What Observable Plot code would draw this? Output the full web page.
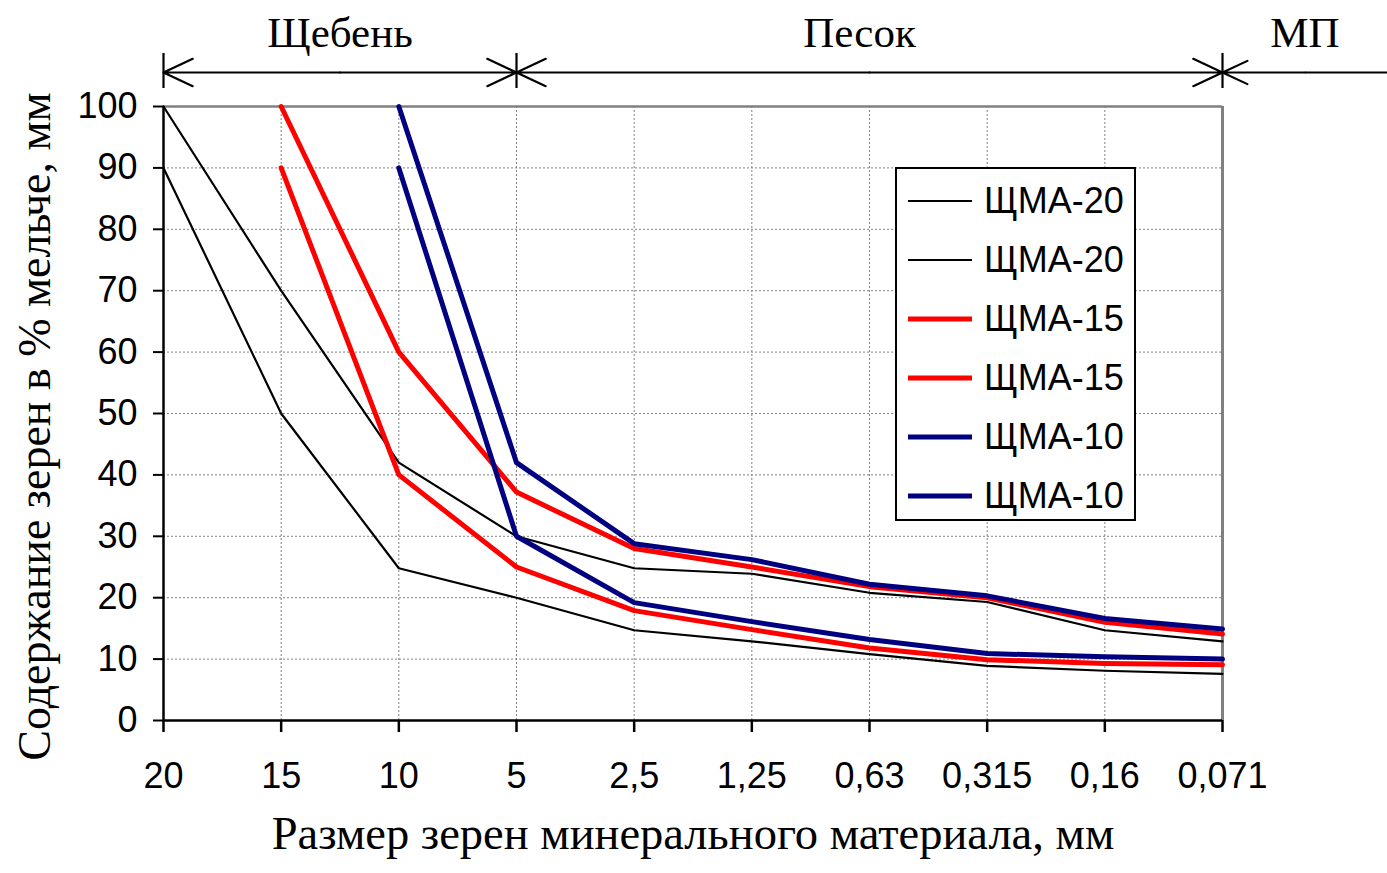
<!DOCTYPE html>
<html>
<head>
<meta charset="utf-8">
<script src="https://cdn.jsdelivr.net/npm/d3@7"></script>
<script src="https://cdn.jsdelivr.net/npm/@observablehq/plot@0.6"></script>
<style>
  html, body { margin: 0; padding: 0; background: white; }
  #wrap { position: relative; width: 1387px; height: 873px; }
  #legend { position: absolute; left: 895px; top: 167px; width: 241px; height: 354px;
            box-sizing: border-box; border: 2.5px solid black; background: white;
            font-family: "Liberation Sans", Arial, sans-serif; font-size: 36px; }
  .row { position: absolute; left: 0; height: 40px; display: flex; align-items: center; }
  .row svg { margin-left: 11px; margin-right: 12px; }
</style>
</head>
<body>
<div id="wrap"></div>
<script>
// ---- data ----
const sizes = ["20", "15", "10", "5", "2,5", "1,25", "0,63", "0,315", "0,16", "0,071"];
const shma20Upper = [100, 70, 42, 30, 24.8, 23.9, 20.8, 19.3, 14.7, 12.9];
const shma20Lower = [90, 50, 24.8, 20, 14.7, 12.9, 10.8, 8.9, 8.1, 7.6];
const shma15Upper = [null, 100, 60, 37.2, 28, 25, 21.8, 20, 16, 14.1];
const shma15Lower = [null, 90, 40, 25, 17.9, 14.8, 11.8, 9.9, 9.3, 9.1];
const shma10Upper = [null, null, 100, 42, 28.8, 26.2, 22.2, 20.3, 16.6, 14.9];
const shma10Lower = [null, null, 90, 30, 19.2, 16.1, 13.2, 10.9, 10.4, 10];
const seriesNames = ["ЩМА-20", "ЩМА-20", "ЩМА-15", "ЩМА-15", "ЩМА-10", "ЩМА-10"];
const seriesValues = [shma20Upper, shma20Lower, shma15Upper, shma15Lower, shma10Upper, shma10Lower];
const seriesColors = ["#000000", "#000000", "#FF0000", "#FF0000", "#000080", "#000080"];
const seriesWidths = [2.2, 2.2, 5, 5, 5, 5];
const yTicks = [0, 10, 20, 30, 40, 50, 60, 70, 80, 90, 100];
const sectionLabels = ["Щебень", "Песок", "МП"];
const sectionFrom = ["20", "5", "0,071"];
const sectionTo = ["5", "0,071", null];
const xTitle = "Размер зерен минерального материала, мм";
const yTitle = "Содержание зерен в % мельче, мм";

// ---- build ----
const idx = s => sizes.indexOf(s);
const rows = seriesValues.map((vals, k) =>
  vals.map((v, i) => ({i, v, k})).filter(d => d.v != null));

const W = 1387, H = 873;
const mL = 163, mR = 165, mT = 106, mB = 153;
const pxPerX = (W - mL - mR) / (sizes.length - 1);
const xEdge = (W - mL) / pxPerX;           // index at right edge of page
const yPx = px => (H - mB - px) / ((H - mB - mT) / 100); // pixel row -> value

const arrowY = yPx(72), tickY1 = yPx(53), tickY2 = yPx(88), labelY = yPx(33);

const sections = sectionLabels.map((label, j) => {
  const a = idx(sectionFrom[j]);
  const b = sectionTo[j] == null ? xEdge : idx(sectionTo[j]);
  return {label, a, b, closed: sectionTo[j] != null};
});
const arrows = [];
const plainLinks = [];
sections.forEach(s => {
  const mid = (s.a + s.b) / 2;
  arrows.push({x1: mid, x2: s.a});
  if (s.closed) arrows.push({x1: mid, x2: s.b});
  else plainLinks.push({x1: mid, x2: s.b});
});
const bracketTicks = [...new Set(sections.filter(s => s.closed).flatMap(s => [s.a, s.b]))];

const serif = "'Liberation Serif', 'Times New Roman', serif";
const lineMarks = rows.map((r, k) => Plot.line(r, {
  x: "i", y: "v", stroke: seriesColors[k], strokeWidth: seriesWidths[k], strokeLinejoin: "round"
}));

const chart = Plot.plot({
  width: W, height: H,
  marginLeft: mL, marginRight: mR, marginTop: mT, marginBottom: mB,
  style: {fontFamily: "'Liberation Sans', Arial, sans-serif", background: "white", color: "black", overflow: "visible"},
  x: {domain: [0, sizes.length - 1]},
  y: {domain: [0, 100]},
  marks: [
    Plot.gridX(d3.range(1, sizes.length - 1), {stroke: "#808080", strokeOpacity: 1, strokeDasharray: "2,2", strokeWidth: 1}),
    Plot.gridY(yTicks.slice(1, -1), {stroke: "#808080", strokeOpacity: 1, strokeDasharray: "2,2", strokeWidth: 1}),
    Plot.ruleY([100], {stroke: "#808080", strokeWidth: 2.5}),
    Plot.ruleX([sizes.length - 1], {stroke: "#808080", strokeWidth: 3}),
    Plot.axisY(yTicks, {tickSize: 10, tickPadding: 16, fontSize: 36, label: null, strokeWidth: 2}),
    Plot.axisX(d3.range(sizes.length), {tickSize: 12, tickPadding: 30, fontSize: 36, label: null,
      tickFormat: i => sizes[i], strokeWidth: 2.5}),
    Plot.ruleX([0], {strokeWidth: 2.5}),
    Plot.ruleY([0], {strokeWidth: 2.5}),
    ...lineMarks,
    // top section annotations
    Plot.arrow(arrows, {x1: "x1", x2: "x2", y1: arrowY, y2: arrowY, strokeWidth: 2.2,
      headLength: 22, headAngle: 50, stroke: "black"}),
    Plot.link(plainLinks, {x1: "x1", x2: "x2", y1: arrowY, y2: arrowY, strokeWidth: 2.2, stroke: "black"}),
    Plot.ruleX(bracketTicks, {x: d => d, y1: tickY1, y2: tickY2, strokeWidth: 2.2}),
    Plot.text(sections.filter(s => s.label !== "Песок"), {x: s => (s.a + s.b) / 2, y: labelY, text: "label",
      fontSize: 43, fontFamily: serif, fill: "black"}),
    Plot.text(sections.filter(s => s.label === "Песок"), {x: s => (s.a + s.b) / 2, y: labelY, text: "label",
      fontSize: 43, dx: -10, fontFamily: serif, fill: "black"}),
    // axis titles
    Plot.text([xTitle], {text: d => d, frameAnchor: "bottom", dy: 128, fontSize: 46.5, fontFamily: serif}),
    Plot.text([yTitle], {text: d => d, frameAnchor: "left", textAnchor: "middle", rotate: -90,
      dx: -128, dy: 13, fontSize: 46, fontFamily: serif})
  ]
});
const wrap = document.getElementById("wrap");
wrap.appendChild(chart);

// legend (overlay inside the plot area)
const legend = document.createElement("div");
legend.id = "legend";
seriesNames.forEach((name, k) => {
  const row = document.createElement("div");
  row.className = "row";
  row.style.top = (12 + k * 59) + "px";
  row.innerHTML = `<svg width="64" height="10"><line x1="0" x2="64" y1="5" y2="5" stroke="${seriesColors[k]}" stroke-width="${seriesWidths[k]}"/></svg><span>${name}</span>`;
  legend.appendChild(row);
});
wrap.appendChild(legend);
</script>
</body>
</html>
